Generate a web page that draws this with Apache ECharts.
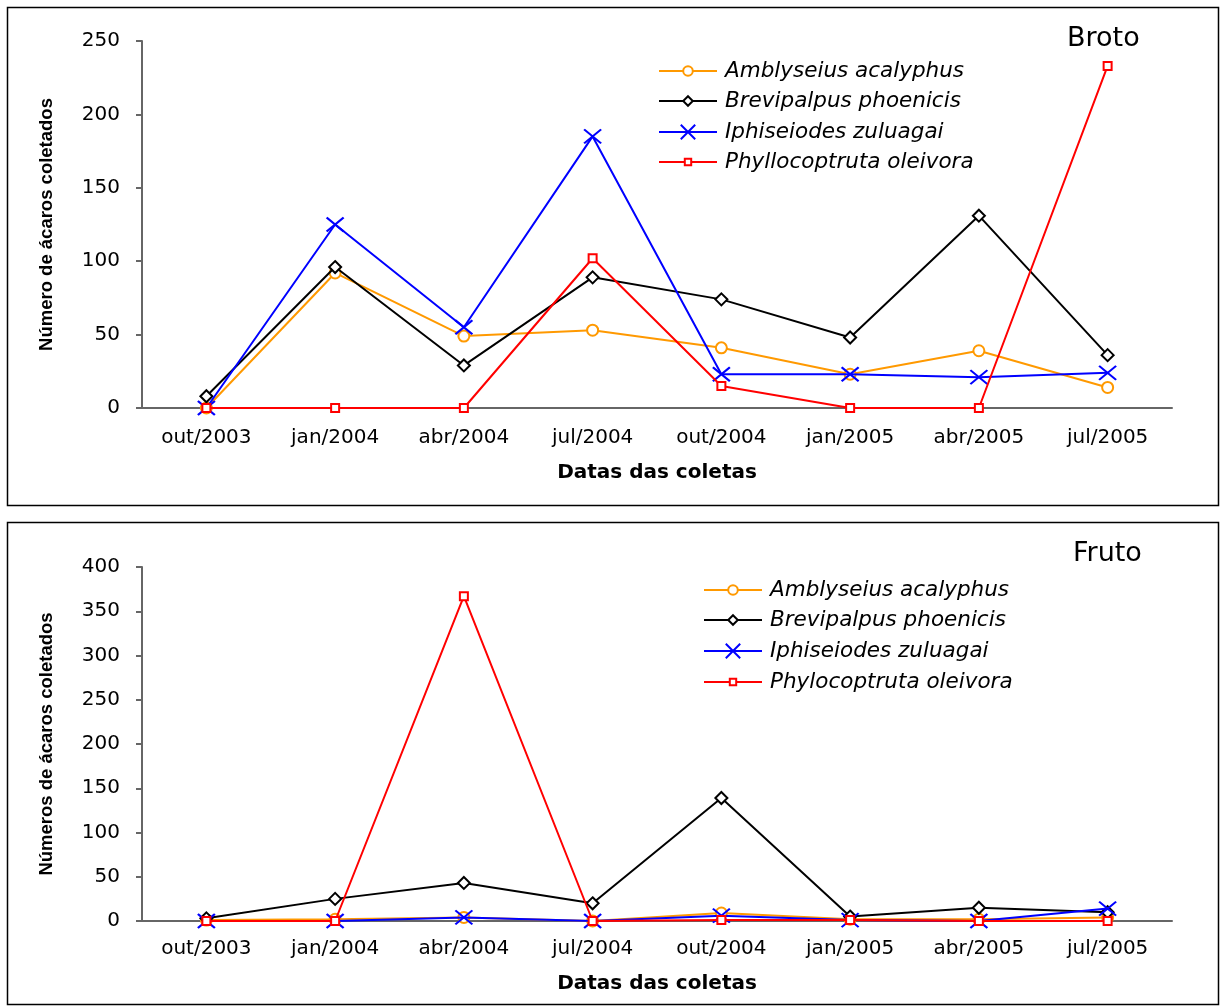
<!DOCTYPE html>
<html>
<head>
<meta charset="utf-8">
<script src="https://cdn.jsdelivr.net/npm/echarts@6/dist/echarts.min.js"></script>
<style>
html,body{margin:0;padding:0;background:#fff;}
#chart{width:1221px;height:1007px;}
</style>
</head>
<body>
<div id="chart"></div>
<script>
var categories = ['out/2003','jan/2004','abr/2004','jul/2004','out/2004','jan/2005','abr/2005','jul/2005'];

var brotoAmbly = [0,92,49,53,41,23,39,14];
var brotoBrevi = [8,96,29,89,74,48,131,36];
var brotoIphi  = [0,125,55,185,23,23,21,24];
var brotoPhyl  = [0,0,0,102,15,0,0,233];

var frutoAmbly = [1,2,4,0,9,2,2,4];
var frutoBrevi = [3,25,43,20,139,5,15,10];
var frutoIphi  = [0,0,4,0,6,1,0,14];
var frutoPhyl  = [0,0,367,0,1,1,0,0];

var namesBroto = ['Amblyseius acalyphus','Brevipalpus phoenicis','Iphiseiodes zuluagai','Phyllocoptruta oleivora'];
var namesFruto = ['Amblyseius acalyphus','Brevipalpus phoenicis','Iphiseiodes zuluagai','Phylocoptruta oleivora'];

var FONT = '"DejaVu Sans", sans-serif';
var FONT2 = '"Liberation Sans", Arial, sans-serif';
var styles = [
  {color:'#FF9900', symbol:'emptyCircle', size:11, legendH:12},
  {color:'#000000', symbol:'emptyDiamond', size:12, legendH:12},
  {color:'#0000FF', symbol:'path://M0,0L14,12M14,0L0,12', size:[17,14], legendH:18},
  {color:'#FF0000', symbol:'emptyRect', size:8, legendH:8}
];

function mkSeries(names, datas, gi){
  return names.map(function(n,i){
    var s = styles[i];
    return {
      type:'line', name:n, xAxisIndex:gi, yAxisIndex:gi, data:datas[i],
      symbol:s.symbol, symbolSize:s.size, showAllSymbol:true,
      lineStyle:{color:s.color, width:2},
      itemStyle:{color:s.color, borderColor:s.color, borderWidth:2},
      emphasis:{disabled:true}, animation:false, z: 2+i
    };
  });
}

function xAxis(gi, margin, gap){
  return {
    type:'category', gridIndex:gi, data:categories, boundaryGap:true,
    name:'Datas das coletas', nameLocation:'middle', nameGap:gap,
    nameTextStyle:{fontFamily:FONT, fontSize:20, fontWeight:'bold', color:'#000'},
    axisLine:{lineStyle:{color:'#666', width:2}},
    axisTick:{length:8, lineStyle:{color:'#666', width:2}},
    axisLabel:{fontFamily:FONT, fontSize:20, color:'#000', margin:margin}
  };
}
function yAxis(gi, max, name, gap){
  return {
    type:'value', gridIndex:gi, min:0, max:max, interval:50,
    name:name, nameLocation:'middle', nameGap:gap,
    nameTextStyle:{fontFamily:FONT2, fontSize:18.5, fontWeight:'bold', color:'#000'},
    axisLine:{show:true, lineStyle:{color:'#666', width:2}},
    axisTick:{show:true, length:6, lineStyle:{color:'#666', width:2}},
    axisLabel:{fontFamily:FONT, fontSize:20, color:'#000', margin:22},
    splitLine:{show:false}
  };
}
function legends(names, left, centers){
  return names.map(function(n,i){
    var h = styles[i].legendH;
    var boxH = Math.max(h, 22);
    return {
      data:[n], orient:'vertical', left:left, top:centers[i] - boxH/2, padding:0,
      itemWidth:58, itemHeight:h,
      textStyle:{fontFamily:FONT, fontSize:21.5, fontStyle:'italic', color:'#000', lineHeight:22, padding:[0,0,0,3]},
      selectedMode:false
    };
  });
}

var chart = echarts.init(document.getElementById('chart'), null, {renderer:'canvas'});
chart.setOption({
  backgroundColor:'#fff',
  animation:false,
  title:[
    {text:'Broto', left:1067, top:25, padding:0, textStyle:{fontFamily:FONT, fontSize:27, fontWeight:'normal', color:'#000'}},
    {text:'Fruto', left:1073, top:540, padding:0, textStyle:{fontFamily:FONT, fontSize:27, fontWeight:'normal', color:'#000'}}
  ],
  graphic:[
    {type:'rect', shape:{x:7.5, y:7.5, width:1211, height:498}, style:{fill:'none', stroke:'#000', lineWidth:1.5}, silent:true},
    {type:'rect', shape:{x:7.5, y:522.5, width:1211, height:482}, style:{fill:'none', stroke:'#000', lineWidth:1.5}, silent:true}
  ],
  legend: legends(namesBroto, 658, [71,101,132,162]).concat(legends(namesFruto, 703, [590,620,651,682])),
  grid:[
    {left:142, top:41, width:1030, height:367},
    {left:142, top:567, width:1030, height:354}
  ],
  xAxis:[ xAxis(0, 20, 55), xAxis(1, 18, 53) ],
  yAxis:[ yAxis(0, 250, 'Número de ácaros coletados', 86), yAxis(1, 400, 'Números de ácaros coletados', 86) ],
  series: mkSeries(namesBroto, [brotoAmbly, brotoBrevi, brotoIphi, brotoPhyl], 0)
    .concat(mkSeries(namesFruto, [frutoAmbly, frutoBrevi, frutoIphi, frutoPhyl], 1))
});
</script>
</body>
</html>
